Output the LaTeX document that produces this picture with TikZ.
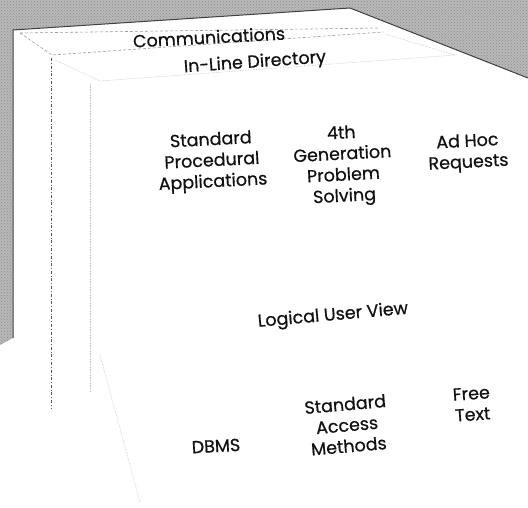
\documentclass[tikz,border=0pt]{standalone}
\usepackage{fontspec}
\setmainfont{Poppins}[FakeBold=0.6]
\usepackage{tikz}
\usetikzlibrary{patterns}
\definecolor{ink}{HTML}{111111}
\definecolor{stipple}{HTML}{B8B8B8}
\definecolor{guide}{HTML}{9A9A9A}

\begin{document}
\begin{tikzpicture}[x=1pt, y=-1pt, every node/.style={font=\fontsize{17.5}{21}\selectfont, text=ink}, lbl/.style={align=center, inner sep=0pt}, rim/.style={draw=ink!80, line width=1pt}, layer/.style={draw=guide, densely dashed, line width=0.6pt}, faint/.style={draw=guide!60, densely dotted, line width=0.6pt}]
\useasboundingbox (0,0) rectangle (528,507);
% stippled background round the box
\fill[stipple] (0,0)--(528,0)--(528,78)--(350,8)--(13,30)--(13,338)--(0,345)--cycle;
\fill[pattern=crosshatch dots, pattern color=gray!90] (0,0)--(528,0)--(528,78)--(350,8)--(13,30)--(13,338)--(0,345)--cycle;
\draw[rim] (528,78)--(350,8)--(13,30)--(13,338);
% layers
\draw[layer] (20,33)--(380,28);
\draw[layer] (20,33)--(52,55)--(383,32);
\draw[faint] (55,60)--(100,81)--(455,55)--(385,34);
\draw[layer, draw=ink!70, dash dot] (51,58)--(51,408);
\draw[faint] (90,84)--(90,392);
\draw[faint] (100,355)--(140,502);
% labels
\node[lbl, rotate=3] (comm) at (209,37) {Communications};
\node[lbl, rotate=4] (dir) at (255,63) {In-Line Directory};
\node[lbl, rotate=3] (spa) at (212,162) {Standard\\Procedural\\Applications};
\node[lbl, rotate=3] (gen) at (343,166) {4th\\Generation\\Problem\\Solving};
\node[lbl, rotate=3] (adhoc) at (468,153) {Ad Hoc\\Requests};
\node[lbl, rotate=5] (luv) at (333,316) {Logical User View};
\node[lbl, rotate=3] (dbms) at (216,446) {DBMS};
\node[lbl, rotate=5] (sam) at (347,425) {Standard\\Access\\Methods};
\node[lbl, rotate=4] (free) at (472,404) {Free\\Text};
\end{tikzpicture}
\end{document}
